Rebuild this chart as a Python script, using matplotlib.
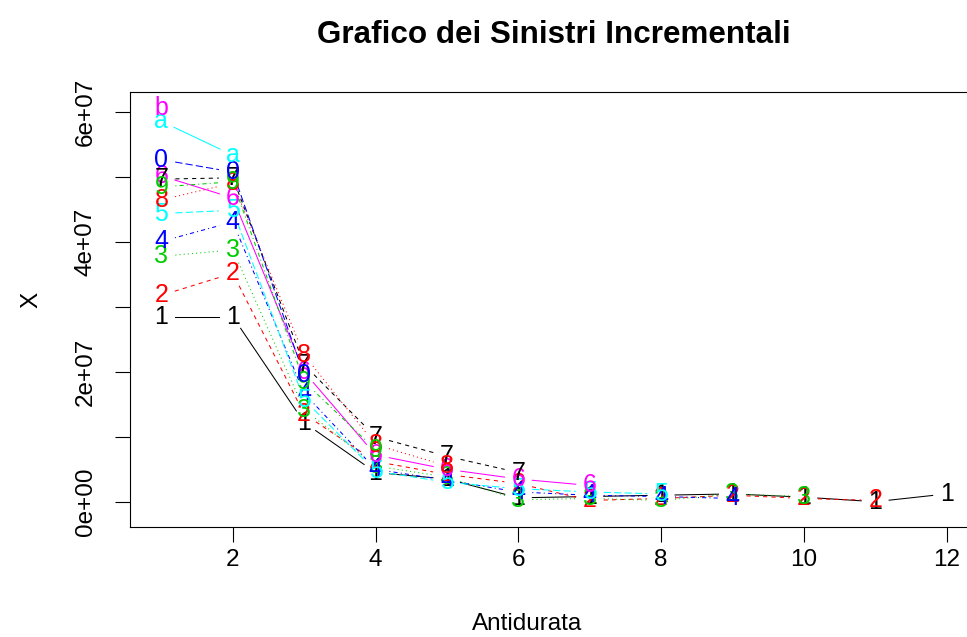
import numpy as np
import matplotlib
matplotlib.use("Agg")
import matplotlib.pyplot as plt

plt.rcParams['font.family'] = ['Liberation Sans', 'DejaVu Sans']

# incremental claims triangle (values in units of 1e7), one list per origin year
antidurata = list(range(1, 13))
series_names = ["1", "2", "3", "4", "5", "6", "7", "8", "9", "0", "a", "b"]
s1 = [2.85, 2.85, 1.22, 0.45, 0.35, 0.06, 0.08, 0.10, 0.12, 0.07, 0.00, 0.12]
s2 = [3.18, 3.52, 1.35, 0.62, 0.42, 0.28, 0.02, 0.05, 0.10, 0.05, 0.02]
s3 = [3.78, 3.88, 1.42, 0.55, 0.38, 0.03, 0.05, 0.02, 0.12, 0.08]
s4 = [4.01, 4.31, 1.67, 0.50, 0.33, 0.15, 0.10, 0.08, 0.05]
s5 = [4.44, 4.49, 1.57, 0.47, 0.30, 0.20, 0.15, 0.12]
s6 = [5.02, 4.68, 2.00, 0.72, 0.50, 0.35, 0.25]
s7 = [4.97, 4.99, 2.11, 1.00, 0.70, 0.45]
s8 = [4.65, 4.91, 2.26, 0.88, 0.55]
s9 = [4.85, 4.93, 1.85, 0.80]
s0 = [5.27, 5.08, 1.95]
sa = [5.86, 5.34]
sb = [6.06]
all_series = [s1, s2, s3, s4, s5, s6, s7, s8, s9, s0, sa, sb]

# R default palette / line types, recycled like matplot
palette = ["black", "#FF0000", "#00CD00", "#0000FF", "#00FFFF", "#FF00FF"]
dash_styles = [None, (4, 4), (1, 3), (1, 3, 4, 3), (7, 3)]

W, H, DPI = 967, 637, 100
fig = plt.figure(figsize=(W / DPI, H / DPI), dpi=DPI)
ax = fig.add_axes([130 / W, (H - 526.7) / H, 848 / W, 435 / H])
ax.set_xlim(0.56, 12.44)
ax.set_ylim(-0.385e7, 6.317e7)

gap = 14  # px left free around each plotted character (type = "b")
for i, (name, vals) in enumerate(zip(series_names, all_series)):
    col = palette[i % 6]
    ls = dash_styles[i % 5]
    x = np.array(antidurata[:len(vals)], dtype=float)
    y = np.array(vals) * 1e7
    pts = ax.transData.transform(np.column_stack([x, y]))
    inv = ax.transData.inverted()
    for k in range(len(pts) - 1):
        p0, p1 = pts[k], pts[k + 1]
        d = p1 - p0
        n = np.hypot(*d)
        if n <= 2 * gap:
            continue
        u = d / n
        seg = inv.transform(np.array([p0 + u * gap, p1 - u * gap]))
        line, = ax.plot(seg[:, 0], seg[:, 1], color=col, lw=0.75)
        if ls is not None:
            line.set_dashes(ls)
    for xi, yi in zip(x, y):
        ax.text(xi, yi, name, color=col, fontsize=18, ha="center", va="center")

ax.set_xticks([2, 4, 6, 8, 10, 12])
ax.set_yticks([0, 1e7, 2e7, 3e7, 4e7, 5e7, 6e7])
ax.set_yticklabels(["0e+00", "", "2e+07", "", "4e+07", "", "6e+07"],
                   rotation=90, va="center")
ax.tick_params(axis="both", labelsize=17.5, length=11, width=0.8, direction="out")
ax.tick_params(axis="x", pad=5)
ax.tick_params(axis="y", pad=13)
for sp in ax.spines.values():
    sp.set_linewidth(0.8)

fig.text(554 / W, 1 - 35 / H, "Grafico dei Sinistri Incrementali",
         fontsize=22.6, fontweight="bold", ha="center", va="center")
fig.text(527 / W, 1 - 624 / H, "Antidurata", fontsize=17.5, ha="center", va="center")
fig.text(31 / W, 1 - 300 / H, "X", fontsize=17.5, rotation=90, ha="center", va="center")

fig.savefig("out.png", dpi=DPI)
